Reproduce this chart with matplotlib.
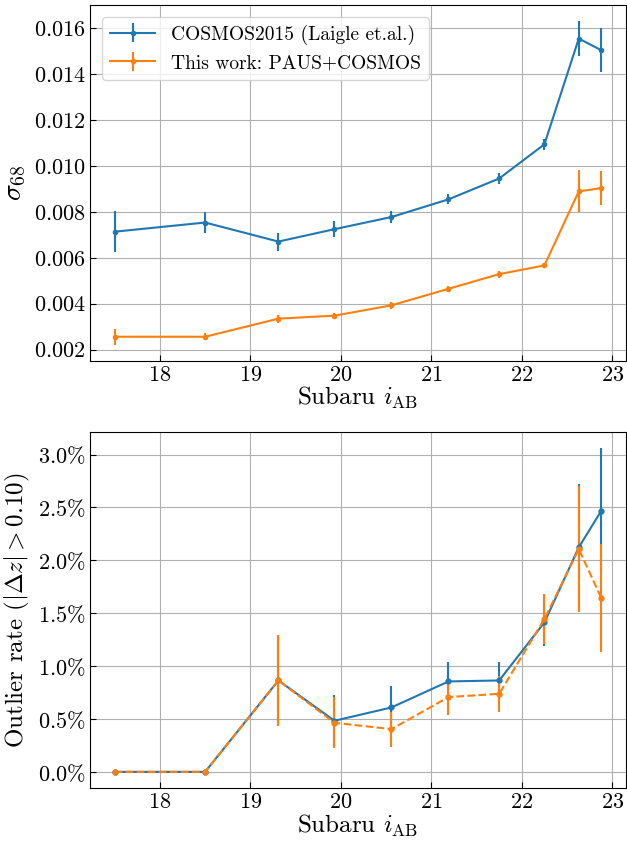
import matplotlib
matplotlib.use("Agg")
import matplotlib.pyplot as plt
from matplotlib.ticker import FuncFormatter, MultipleLocator

plt.rcParams['font.family'] = ['cmr10', 'DejaVu Serif']
plt.rcParams['mathtext.fontset'] = 'cm'
plt.rcParams['axes.formatter.use_mathtext'] = True
plt.rcParams['axes.unicode_minus'] = False

# magnitude bins
mag = [17.5, 18.5, 19.31, 19.93, 20.56, 21.19, 21.75, 22.25, 22.63, 22.88]

# sigma68
sig_cosmos = [0.00714, 0.00754, 0.00671, 0.00725, 0.00778, 0.00855, 0.00946, 0.01095, 0.01556, 0.01505]
sig_cosmos_err = [0.00089, 0.00044, 0.00039, 0.00035, 0.00028, 0.00022, 0.00025, 0.00024, 0.00076, 0.00096]
sig_paus = [0.00256, 0.00256, 0.00335, 0.00348, 0.00393, 0.00465, 0.00529, 0.00567, 0.00890, 0.00904]
sig_paus_err = [0.00034, 0.00015, 0.00017, 0.00013, 0.00015, 0.00012, 0.00015, 0.00009, 0.00092, 0.00073]

# outlier rates (fraction)
out_cosmos = [0.0, 0.0, 0.00864, 0.00483, 0.00609, 0.00855, 0.00864, 0.01413, 0.02123, 0.0247]
out_cosmos_err = [0.0, 0.0, 0.00426, 0.0024, 0.002, 0.0018, 0.0017, 0.0022, 0.006, 0.0059]
out_paus = [0.0, 0.0, 0.00864, 0.00464, 0.00404, 0.00707, 0.00738, 0.01445, 0.02107, 0.0164]
out_paus_err = [0.0, 0.0, 0.0043, 0.0024, 0.00165, 0.0017, 0.0017, 0.0024, 0.006, 0.0051]

labels = ['COSMOS2015 (Laigle et.al.)', 'This work: PAUS+COSMOS']
blue = '#1f77b4'
orange = '#ff7f0e'

fig = plt.figure(figsize=(6.27, 8.43), dpi=100)
ax1 = fig.add_axes([0.144, 0.5721, 0.854, 0.422])
ax2 = fig.add_axes([0.144, 0.0652, 0.854, 0.4223])

fs_tick = 16
fs_lab = 18

ax1.errorbar(mag, sig_cosmos, yerr=sig_cosmos_err, color=blue, marker='.', ms=6, lw=1.5, label=labels[0])
ax1.errorbar(mag, sig_paus, yerr=sig_paus_err, color=orange, marker='.', ms=6, lw=1.5, label=labels[1])
ax1.set_ylabel(r'$\sigma_{68}$', fontsize=fs_lab + 2, labelpad=4)
ax1.set_xlabel(r'Subaru $i_{\rm AB}$', fontsize=fs_lab, labelpad=0)
ax1.yaxis.set_major_locator(MultipleLocator(0.002))
ax1.yaxis.set_major_formatter(FuncFormatter(lambda v, p: f'${v:.3f}$'))
ax1.legend(loc='upper left', fontsize=14, handlelength=2.35, borderaxespad=0.6)

ax2.errorbar(mag, out_cosmos, yerr=out_cosmos_err, color=blue, marker='.', ms=7, lw=1.5)
ax2.errorbar(mag, out_paus, yerr=out_paus_err, color=orange, marker='.', ms=7, lw=1.5, ls='--')
ax2.set_ylabel(r'Outlier rate ($|\Delta z| > 0.10$)', fontsize=fs_lab, labelpad=4)
ax2.set_xlabel(r'Subaru $i_{\rm AB}$', fontsize=fs_lab, labelpad=0)
ax2.yaxis.set_major_locator(MultipleLocator(0.005))
ax2.yaxis.set_major_formatter(FuncFormatter(lambda v, p: f'${v*100:.1f}\\%$'))

for ax in (ax1, ax2):
    ax.grid(True, color='#b0b0b0', lw=0.8)
    ax.tick_params(direction='in', labelsize=fs_tick, length=4)
    ax.xaxis.set_major_formatter(FuncFormatter(lambda v, p: f'${v:.0f}$'))
    ax.set_axisbelow(True)

fig.savefig('out.png', dpi=100)
